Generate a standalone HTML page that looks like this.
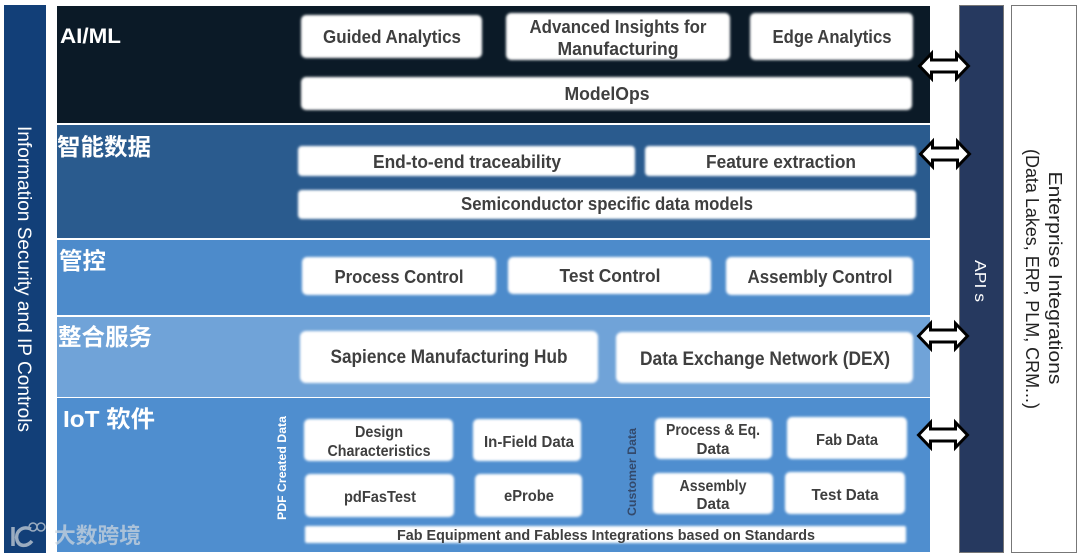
<!DOCTYPE html>
<html><head><meta charset="utf-8">
<style>
html,body{margin:0;padding:0;background:#fff;width:1080px;height:555px;overflow:hidden}
svg{display:block}
text{font-family:"Liberation Sans","Noto Sans CJK SC",sans-serif}
</style></head><body>
<svg width="1080" height="555" viewBox="0 0 1080 555" xmlns="http://www.w3.org/2000/svg">
<defs>
<filter id="s" x="-5%" y="-20%" width="110%" height="140%"><feGaussianBlur stdDeviation="1.3"/></filter>
<path id="arr" d="M-24.5 0L-12.5 -12.5V-6H12.5V-12.5L24.5 0L12.5 12.5V6H-12.5V12.5Z" fill="#fff" stroke="#000" stroke-width="3" stroke-linejoin="miter"/>
</defs>
<rect width="1080" height="555" fill="#fff"/>
<rect x="4" y="5" width="42" height="548" fill="#123f78"/>
<rect x="57" y="6" width="873" height="117" fill="#0b1a27"/>
<rect x="57" y="125" width="873" height="113" fill="#2a5b8e"/>
<rect x="57" y="240" width="873" height="75" fill="#4d8bcb"/>
<rect x="57" y="317" width="873" height="80" fill="#70a3d8"/>
<rect x="57" y="398" width="873" height="154" fill="#4f8ecf"/>
<rect x="959.5" y="5.5" width="44" height="547" fill="#26395f" stroke="#777" stroke-width="1"/>
<rect x="1011.5" y="5.5" width="65" height="547" fill="#fff" stroke="#777" stroke-width="1"/>

<g fill="#fff" filter="url(#s)">
<rect x="301" y="15" width="181" height="43" rx="5"/>
<rect x="506" y="13" width="224" height="47" rx="5"/>
<rect x="750" y="13" width="163" height="47" rx="5"/>
<rect x="301" y="77" width="611" height="33" rx="5"/>
<rect x="298" y="146" width="337" height="30" rx="4"/>
<rect x="645" y="146" width="271" height="30" rx="4"/>
<rect x="298" y="190" width="618" height="29" rx="4"/>
<rect x="302" y="257" width="194" height="38" rx="5"/>
<rect x="508" y="257" width="203" height="37" rx="5"/>
<rect x="726" y="257" width="187" height="38" rx="5"/>
<rect x="300" y="331" width="298" height="52" rx="6"/>
<rect x="616" y="332" width="297" height="51" rx="6"/>
<rect x="304" y="419" width="149" height="42" rx="5"/>
<rect x="473" y="419" width="108" height="42" rx="5"/>
<rect x="655" y="418" width="117" height="41" rx="5"/>
<rect x="787" y="417" width="120" height="42" rx="5"/>
<rect x="305" y="474" width="149" height="43" rx="5"/>
<rect x="475" y="474" width="107" height="43" rx="5"/>
<rect x="653" y="473" width="120" height="41" rx="5"/>
<rect x="785" y="472" width="120" height="42" rx="5"/>
<rect x="305" y="526" width="601" height="17" rx="2"/>
</g>

<text x="60" y="43" font-size="21" font-weight="700" fill="#fff" textLength="61" lengthAdjust="spacingAndGlyphs">AI/ML</text>
<text x="57" y="155" font-size="23.5" font-weight="700" fill="#fff" textLength="94" lengthAdjust="spacingAndGlyphs">智能数据</text>
<text x="59" y="269" font-size="23.5" font-weight="700" fill="#fff" textLength="47" lengthAdjust="spacingAndGlyphs">管控</text>
<text x="58" y="345" font-size="23.5" font-weight="700" fill="#fff" textLength="94" lengthAdjust="spacingAndGlyphs">整合服务</text>
<text x="63" y="427" font-size="23.5" font-weight="700" fill="#fff" textLength="92" lengthAdjust="spacingAndGlyphs">IoT 软件</text>

<g font-weight="700" fill="#3f3f3f" text-anchor="middle">
<text x="392" y="43" font-size="18" textLength="138" lengthAdjust="spacingAndGlyphs">Guided Analytics</text>
<text x="618" y="33" font-size="18" textLength="177" lengthAdjust="spacingAndGlyphs">Advanced Insights for</text>
<text x="618" y="55" font-size="18" textLength="121" lengthAdjust="spacingAndGlyphs">Manufacturing</text>
<text x="832" y="43" font-size="18" textLength="119" lengthAdjust="spacingAndGlyphs">Edge Analytics</text>
<text x="607" y="100" font-size="18" textLength="85" lengthAdjust="spacingAndGlyphs">ModelOps</text>
<text x="467" y="168" font-size="18" textLength="188" lengthAdjust="spacingAndGlyphs">End-to-end traceability</text>
<text x="781" y="168" font-size="18" textLength="150" lengthAdjust="spacingAndGlyphs">Feature extraction</text>
<text x="607" y="210" font-size="18" textLength="292" lengthAdjust="spacingAndGlyphs">Semiconductor specific data models</text>
<text x="399" y="283" font-size="18" textLength="129" lengthAdjust="spacingAndGlyphs">Process Control</text>
<text x="610" y="282" font-size="18" textLength="101" lengthAdjust="spacingAndGlyphs">Test Control</text>
<text x="820" y="283" font-size="18" textLength="145" lengthAdjust="spacingAndGlyphs">Assembly Control</text>
<text x="449" y="363" font-size="19" textLength="237" lengthAdjust="spacingAndGlyphs">Sapience Manufacturing Hub</text>
<text x="765" y="365" font-size="19" textLength="250" lengthAdjust="spacingAndGlyphs">Data Exchange Network (DEX)</text>
<text x="379" y="437" font-size="15.5" textLength="48" lengthAdjust="spacingAndGlyphs">Design</text>
<text x="379" y="456" font-size="15.5" textLength="103" lengthAdjust="spacingAndGlyphs">Characteristics</text>
<text x="529" y="447" font-size="15.5" textLength="90" lengthAdjust="spacingAndGlyphs">In-Field Data</text>
<text x="380" y="502" font-size="15.5" textLength="72" lengthAdjust="spacingAndGlyphs">pdFasTest</text>
<text x="529" y="501" font-size="15.5" textLength="50" lengthAdjust="spacingAndGlyphs">eProbe</text>
<text x="713" y="435" font-size="15.5" textLength="94" lengthAdjust="spacingAndGlyphs">Process &amp; Eq.</text>
<text x="713" y="454" font-size="15.5" textLength="33" lengthAdjust="spacingAndGlyphs">Data</text>
<text x="847" y="445" font-size="15.5" textLength="62" lengthAdjust="spacingAndGlyphs">Fab Data</text>
<text x="713" y="491" font-size="15.5" textLength="67" lengthAdjust="spacingAndGlyphs">Assembly</text>
<text x="713" y="509" font-size="15.5" textLength="33" lengthAdjust="spacingAndGlyphs">Data</text>
<text x="845" y="500" font-size="15.5" textLength="67" lengthAdjust="spacingAndGlyphs">Test Data</text>
<text x="606" y="540" font-size="15" textLength="418" lengthAdjust="spacingAndGlyphs">Fab Equipment and Fabless Integrations based on Standards</text>
</g>

<text transform="translate(286 468) rotate(-90)" text-anchor="middle" font-size="12" font-weight="700" fill="#fff" textLength="104" lengthAdjust="spacingAndGlyphs">PDF Created Data</text>
<text transform="translate(636 472) rotate(-90)" text-anchor="middle" font-size="12" font-weight="700" fill="#33496b" textLength="88" lengthAdjust="spacingAndGlyphs">Customer Data</text>

<text transform="translate(18 279) rotate(90)" text-anchor="middle" font-size="19" fill="#fff" textLength="306" lengthAdjust="spacingAndGlyphs">Information Security and IP Controls</text>
<text transform="translate(975 281) rotate(90)" text-anchor="middle" font-size="16" fill="#fff" textLength="42" lengthAdjust="spacingAndGlyphs">API s</text>
<text transform="translate(1049 278) rotate(90)" text-anchor="middle" font-size="18" fill="#222" textLength="213" lengthAdjust="spacingAndGlyphs">Enterprise Integrations</text>
<text transform="translate(1026 279) rotate(90)" text-anchor="middle" font-size="18" fill="#222" textLength="260" lengthAdjust="spacingAndGlyphs">(Data Lakes, ERP, PLM, CRM...)</text>

<use href="#arr" x="944" y="66"/>
<use href="#arr" x="945" y="154"/>
<use href="#arr" x="943" y="336"/>
<use href="#arr" x="943" y="435"/>

<g opacity="0.72">
<text x="54" y="543" font-size="21.5" font-weight="700" fill="#cfd6dd" textLength="87" lengthAdjust="spacingAndGlyphs">大数跨境</text>
<path d="M13 527V546M31 529C21 525 15 533 17 540C19 547 27 547 32 541" fill="none" stroke="#cfd6dd" stroke-width="3.5"/>
<circle cx="33" cy="527" r="4" fill="none" stroke="#cfd6dd" stroke-width="1.5"/>
<circle cx="41" cy="527" r="4" fill="none" stroke="#cfd6dd" stroke-width="1.5"/>
</g>
</svg>
</body></html>
